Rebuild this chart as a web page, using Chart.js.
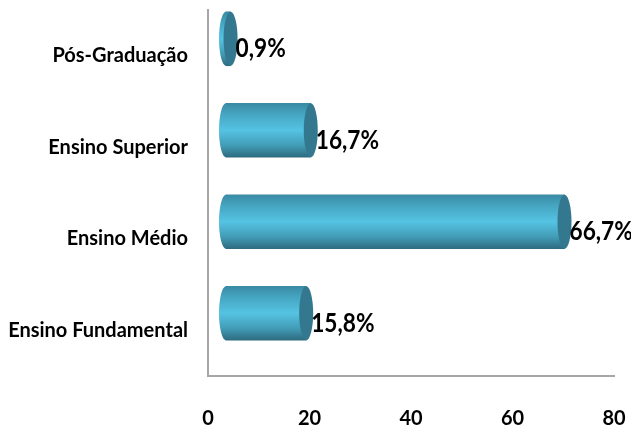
<!DOCTYPE html>
<html>
<head>
<meta charset="utf-8">
<style>
  html, body { margin: 0; padding: 0; background: #fff; }
  #wrap { width: 631px; height: 432px; }
</style>
<script src="https://cdn.jsdelivr.net/npm/chart.js@4/dist/chart.umd.js"></script>
</head>
<body>
<div id="wrap"><canvas id="chart"></canvas></div>
<script>
const categories = ['Pós-Graduação', 'Ensino Superior', 'Ensino Médio', 'Ensino Fundamental'];
const values = [0.9, 16.7, 66.7, 15.8];
const valueLabels = ['0,9%', '16,7%', '66,7%', '15,8%'];

const FONT = 'Lato, "Open Sans", sans-serif';
const DEPTH_X = 18;    // 3d offset of the bars from the axes
const DEPTH_Y = 17;
const CAP_RX = 7;
const BAR_H = 54;

function barGradient(ctx, top, bottom) {
  const g = ctx.createLinearGradient(0, top, 0, bottom);
  g.addColorStop(0, '#3a8aa3');
  g.addColorStop(0.2, '#45a5c1');
  g.addColorStop(0.5, '#55c3e3');
  g.addColorStop(0.78, '#429cb6');
  g.addColorStop(1, '#2d6b80');
  return g;
}

// shifts the bars like the floor of a 3d chart and draws the round caps
const cylinder = {
  id: 'cylinder',
  beforeDatasetsDraw(chart) {
    chart.ctx.save();
    chart.ctx.translate(DEPTH_X, -DEPTH_Y);
  },
  afterDatasetsDraw(chart) {
    const ctx = chart.ctx;
    chart.getDatasetMeta(0).data.forEach(bar => {
      const ry = bar.height / 2;
      ctx.fillStyle = barGradient(ctx, bar.y - ry, bar.y + ry);
      ctx.beginPath();
      ctx.ellipse(bar.base, bar.y, CAP_RX, ry, 0, Math.PI / 2, Math.PI * 1.5);
      ctx.fill();
      ctx.fillStyle = '#33788f';
      ctx.beginPath();
      ctx.ellipse(bar.x, bar.y, CAP_RX, ry, 0, 0, Math.PI * 2);
      ctx.fill();
    });
    ctx.restore();
    ctx.fillStyle = '#000';
    ctx.font = 'bold 27px ' + FONT;
    ctx.textAlign = 'left';
    ctx.textBaseline = 'middle';
    chart.getDatasetMeta(0).data.forEach((bar, i) => {
      // the original labels are tall and narrow
      ctx.save();
      ctx.translate(bar.x + DEPTH_X + CAP_RX - 2, bar.y - DEPTH_Y + 10);
      ctx.scale(0.84, 1);
      ctx.fillText(valueLabels[i], 0, 0);
      ctx.restore();
    });
  }
};

new Chart(document.getElementById('chart'), {
  type: 'bar',
  plugins: [cylinder],
  data: {
    labels: categories,
    datasets: [{
      data: values,
      backgroundColor: c => {
        const mid = c.chart.scales.y.getPixelForValue(c.dataIndex);
        if (!Number.isFinite(mid)) return '#55c3e3'; // not laid out yet
        return barGradient(c.chart.ctx, mid - BAR_H / 2, mid + BAR_H / 2);
      },
      borderWidth: 0,
      barThickness: BAR_H,
      clip: false,
    }],
  },
  options: {
    indexAxis: 'y',
    responsive: true,
    maintainAspectRatio: false,
    animation: false,
    layout: { padding: { top: 10, right: 17 } },
    plugins: { legend: { display: false }, tooltip: { enabled: false } },
    scales: {
      x: {
        min: 0,
        max: 80,
        afterFit: s => { s.height = 56; s.paddingLeft = 0; s.paddingRight = 0; },
        grid: { display: false },
        border: { color: '#a6a6a6', width: 2 },
        ticks: { stepSize: 20, maxRotation: 0, padding: 23, color: '#000', font: { family: FONT, size: 20, weight: 'bold' } },
      },
      y: {
        afterFit: s => { s.width = 208; s.paddingTop = 0; s.paddingBottom = 0; },
        grid: { display: false },
        border: { color: '#a6a6a6', width: 2 },
        ticks: { padding: 12, color: '#000', font: { family: FONT, size: 20, weight: 'bold' } },
      },
    },
  },
});
</script>
</body>
</html>
